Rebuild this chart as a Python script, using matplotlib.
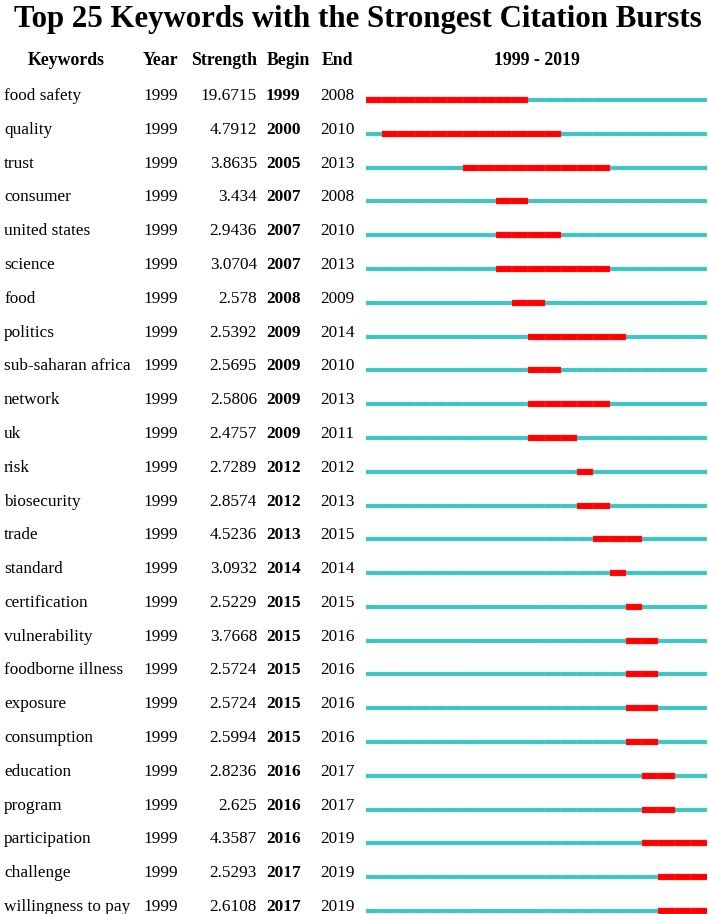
import numpy as np
import matplotlib
matplotlib.use("Agg")
import matplotlib.pyplot as plt

keywords = ["food safety", "quality", "trust", "consumer", "united states", "science",
            "food", "politics", "sub-saharan africa", "network", "uk", "risk",
            "biosecurity", "trade", "standard", "certification", "vulnerability",
            "foodborne illness", "exposure", "consumption", "education", "program",
            "participation", "challenge", "willingness to pay"]
year = [1999] * 25
strength = [19.6715, 4.7912, 3.8635, 3.434, 2.9436, 3.0704, 2.578, 2.5392, 2.5695,
            2.5806, 2.4757, 2.7289, 2.8574, 4.5236, 3.0932, 2.5229, 3.7668, 2.5724,
            2.5724, 2.5994, 2.8236, 2.625, 4.3587, 2.5293, 2.6108]
begin = [1999, 2000, 2005, 2007, 2007, 2007, 2008, 2009, 2009, 2009, 2009, 2012, 2012,
         2013, 2014, 2015, 2015, 2015, 2015, 2015, 2016, 2016, 2016, 2017, 2017]
end = [2008, 2010, 2013, 2008, 2010, 2013, 2009, 2014, 2010, 2013, 2011, 2012, 2013,
       2015, 2014, 2015, 2016, 2016, 2016, 2016, 2017, 2017, 2019, 2019, 2019]
first_year, last_year = 1999, 2019

plt.rcParams['font.family'] = ['Liberation Serif', 'DejaVu Serif']

W, H = 709, 914
fig = plt.figure(figsize=(W / 100, H / 100), dpi=100)

# row geometry (pixels): row 0 at 100, row 24 at 911
row0, step = 100.0, (911.0 - 100.0) / 24
ytop = -row0 / step
ybot = (H - row0) / step

# bar area
bx0, bx1 = 366, 707
ax = fig.add_axes([bx0 / W, 0, (bx1 - bx0) / W, 1])
ax.set_xlim(first_year, last_year + 1)
ax.set_ylim(ybot, ytop)
ax.axis("off")

cyan = "#3fc4c4"
red = "#ff0000"
years = np.arange(first_year, last_year + 1)
for i in range(len(keywords)):
    ax.barh([i] * len(years), [1] * len(years), left=years, height=4 / step,
            color=cyan, edgecolor="#6fd2d2", linewidth=0.25)
    burst = np.arange(begin[i], end[i] + 1)
    ax.barh([i] * len(burst), [1] * len(burst), left=burst, height=6 / step,
            color=red, edgecolor="#ff3c3c", linewidth=0.25)

# text layer, x in pixels, y in row units
tx = fig.add_axes([0, 0, 1, 1], zorder=-1)
tx.set_xlim(0, W)
tx.set_ylim(ybot, ytop)
tx.axis("off")

fs = 12.4
hfs = 12.8
tx.text(358, (27 - row0) / step, "Top 25 Keywords with the Strongest Citation Bursts",
        ha="center", va="baseline", fontsize=22.2, fontweight="bold")

hy = (65 - row0) / step
tx.text(66, hy, "Keywords", ha="center", va="baseline", fontsize=hfs, fontweight="bold")
tx.text(143, hy, "Year", ha="left", va="baseline", fontsize=hfs, fontweight="bold")
tx.text(224, hy, "Strength", ha="center", va="baseline", fontsize=hfs, fontweight="bold")
tx.text(288, hy, "Begin", ha="center", va="baseline", fontsize=hfs, fontweight="bold")
tx.text(337, hy, "End", ha="center", va="baseline", fontsize=hfs, fontweight="bold")
tx.text(537, hy, f"{first_year} - {last_year}", ha="center", va="baseline",
        fontsize=hfs, fontweight="bold")

for i in range(len(keywords)):
    tx.text(4, i, keywords[i], ha="left", va="baseline", fontsize=fs)
    tx.text(143, i, str(year[i]), ha="left", va="baseline", fontsize=fs)
    tx.text(257, i, str(strength[i]), ha="right", va="baseline", fontsize=fs)
    tx.text(266, i, str(begin[i]), ha="left", va="baseline", fontsize=fs, fontweight="bold")
    tx.text(320, i, str(end[i]), ha="left", va="baseline", fontsize=fs)

fig.savefig("out.png", dpi=100)
